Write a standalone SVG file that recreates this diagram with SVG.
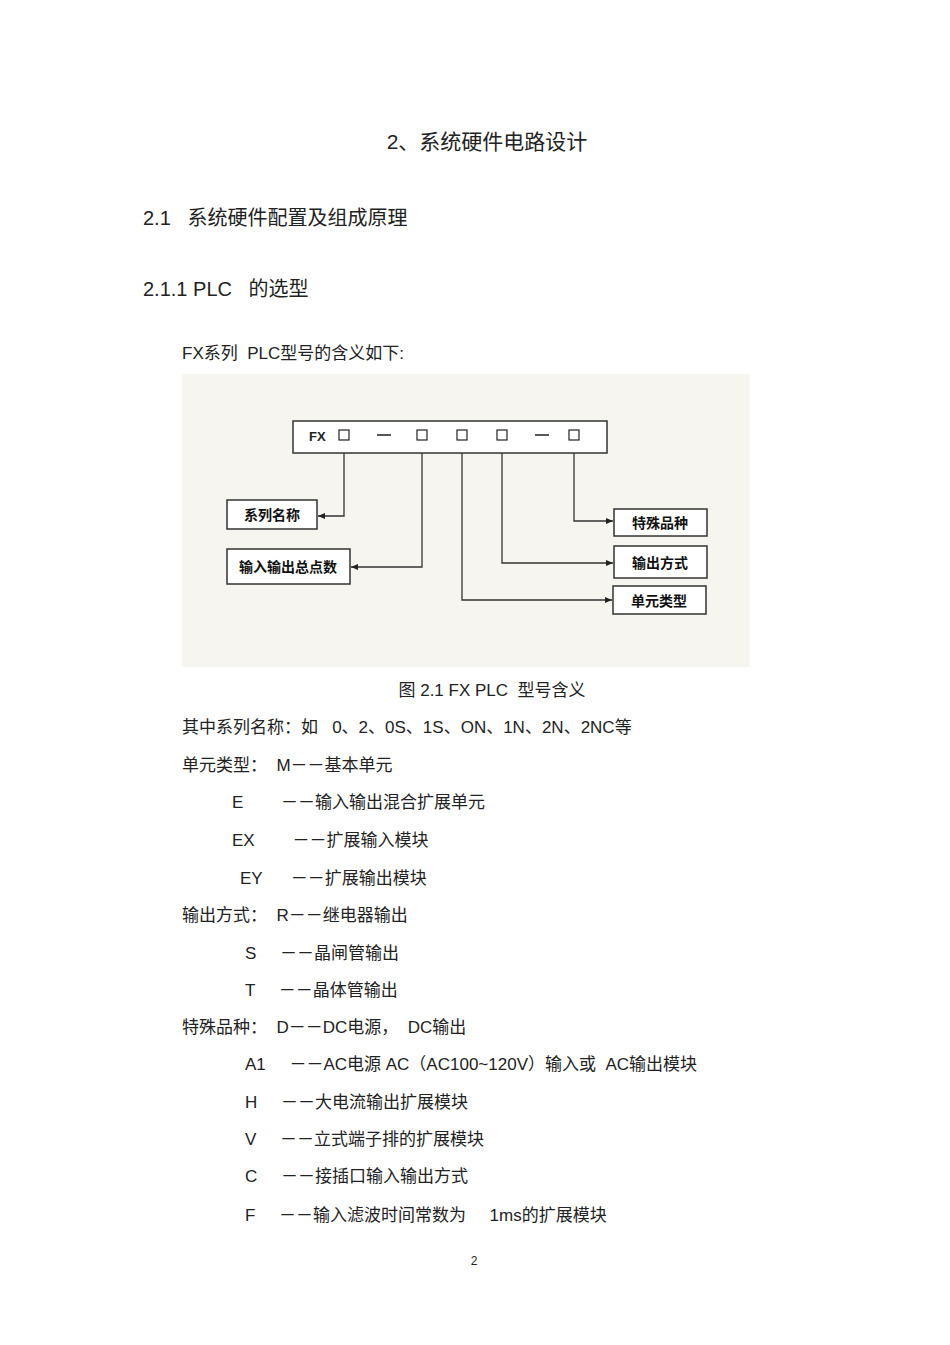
<svg xmlns="http://www.w3.org/2000/svg" width="950" height="1345" viewBox="0 0 950 1345">
<style>
text{font-family:"Liberation Sans","Noto Sans CJK SC",sans-serif;fill:#222;white-space:pre}
.b{font-size:17px}
.n{font-size:14px;font-family:"Noto Sans CJK SC",sans-serif;fill:#111;font-weight:bold}
.box{fill:#fff;stroke:#333;stroke-width:1.5}
.c{fill:none;stroke:#333;stroke-width:1.3}
.sq{fill:none;stroke:#222;stroke-width:1.2}
</style>
<defs><marker id="a" markerWidth="8" markerHeight="8" refX="7" refY="4" orient="auto" markerUnits="userSpaceOnUse"><path d="M0,1 L7,4 L0,7 z" fill="#222"/></marker></defs>
<rect width="950" height="1345" fill="#fff"/>
<text x="487" y="149" font-size="21" text-anchor="middle">2、系统硬件电路设计</text>
<text x="143" y="225" font-size="20">2.1   系统硬件配置及组成原理</text>
<text x="143" y="296" font-size="20">2.1.1 PLC   的选型</text>
<text x="182" y="359" class="b">FX系列  PLC型号的含义如下:</text>
<rect x="182" y="374" width="568" height="293" fill="#f7f5f0"/>
<g id="model"><rect class="box" x="293" y="421" width="314" height="32"/>
<text x="309" y="441" font-size="13" font-weight="bold" font-family="Liberation Serif,serif">FX</text>
<rect class="sq" x="339" y="430" width="10" height="10"/><rect class="sq" x="417" y="430" width="10" height="10"/><rect class="sq" x="457" y="430" width="10" height="10"/><rect class="sq" x="497" y="430" width="10" height="10"/><rect class="sq" x="569" y="430" width="10" height="10"/>
<path d="M377,435h14M535,435h14" stroke="#222" stroke-width="1.5"/></g>
<g id="n1"><rect class="box" x="227" y="500" width="90" height="29"/><text class="n" x="272" y="520" text-anchor="middle">系列名称</text></g>
<g id="n2"><rect class="box" x="227" y="549" width="123" height="35"/><text class="n" x="288" y="572" text-anchor="middle">输入输出总点数</text></g>
<g id="n3"><rect class="box" x="614" y="509" width="93" height="27"/><text class="n" x="660" y="528" text-anchor="middle">特殊品种</text></g>
<g id="n4"><rect class="box" x="614" y="546" width="93" height="32"/><text class="n" x="660" y="568" text-anchor="middle">输出方式</text></g>
<g id="n5"><rect class="box" x="613" y="586" width="93" height="28"/><text class="n" x="659" y="606" text-anchor="middle">单元类型</text></g>
<g id="connectors">
<path class="c" d="M344,453V516H318" marker-end="url(#a)"/>
<path class="c" d="M422,453V567H351" marker-end="url(#a)"/>
<path class="c" d="M574,453V521H613" marker-end="url(#a)"/>
<path class="c" d="M502,453V563H613" marker-end="url(#a)"/>
<path class="c" d="M462,453V600H612" marker-end="url(#a)"/>
</g>
<text x="492" y="696" class="b" text-anchor="middle">图 2.1 FX PLC  型号含义</text>
<text x="182" y="733" class="b">其中系列名称：如   0、2、0S、1S、ON、1N、2N、2NC等</text>
<text x="182" y="771" class="b">单元类型：  M－－基本单元</text>
<text x="232" y="808" class="b">E        －－输入输出混合扩展单元</text>
<text x="232" y="846" class="b">EX        －－扩展输入模块</text>
<text x="240" y="884" class="b">EY      －－扩展输出模块</text>
<text x="182" y="921" class="b">输出方式：  R－－继电器输出</text>
<text x="245" y="959" class="b">S     －－晶闸管输出</text>
<text x="245" y="996" class="b">T     －－晶体管输出</text>
<text x="182" y="1033" class="b">特殊品种：  D－－DC电源，  DC输出</text>
<text x="245" y="1070" class="b">A1     －－AC电源 AC（AC100~120V）输入或  AC输出模块</text>
<text x="245" y="1108" class="b">H     －－大电流输出扩展模块</text>
<text x="245" y="1145" class="b">V     －－立式端子排的扩展模块</text>
<text x="245" y="1182" class="b">C     －－接插口输入输出方式</text>
<text x="245" y="1221" class="b">F     －－输入滤波时间常数为     1ms的扩展模块</text>
<text x="474" y="1265" font-size="12" text-anchor="middle">2</text>
</svg>
